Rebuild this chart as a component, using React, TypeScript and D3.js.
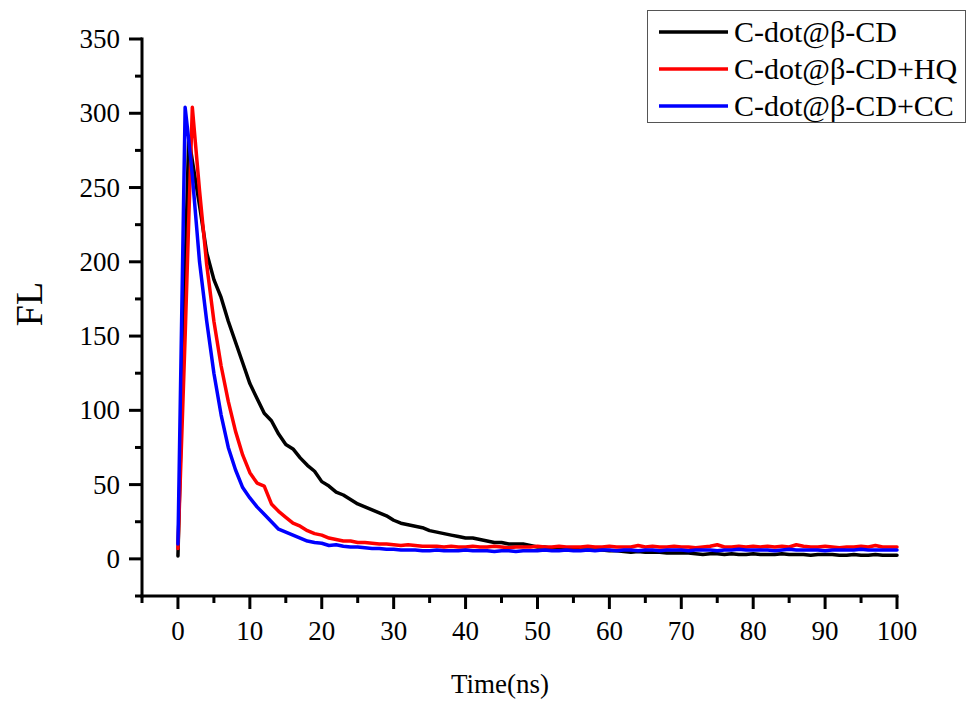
import React from "react";
import * as d3 from "d3";

// sample times (ns)
const time = [
  0, 1, 1.5, 2,
  3, 4, 5, 6, 7, 8, 9, 10,
  11, 12, 13, 14, 15, 16, 17, 18, 19, 20,
  21, 22, 23, 24, 25, 26, 27, 28, 29, 30,
  31, 32, 33, 34, 35, 36, 37, 38, 39, 40,
  41, 42, 43, 44, 45, 46, 47, 48, 49, 50,
  51, 52, 53, 54, 55, 56, 57, 58, 59, 60,
  61, 62, 63, 64, 65, 66, 67, 68, 69, 70,
  71, 72, 73, 74, 75, 76, 77, 78, 79, 80,
  81, 82, 83, 84, 85, 86, 87, 88, 89, 90,
  91, 92, 93, 94, 95, 96, 97, 98, 99, 100,
];

const cdot = [
  2, 195, 284, 268,
  238, 206, 188, 176, 160, 146, 132, 118,
  108, 98, 93, 84, 77, 74, 68, 63, 59, 52,
  49, 45, 43, 40, 37, 35, 33, 31, 29, 26,
  24, 23, 22, 21, 19, 18, 17, 16, 15, 14,
  14, 13, 12, 11, 11, 10, 10, 10, 9, 8,
  8, 7, 7, 7, 6.5, 6, 6, 6, 6, 5.5,
  5.5, 5, 4.5, 5, 4.5, 4.5, 4.5, 4, 4, 4,
  4, 3.5, 3, 3.5, 3.5, 3, 3.5, 3, 3, 3.5,
  3, 3, 3, 3.5, 3, 3, 3, 2.5, 3, 3,
  3, 2.5, 2.5, 3, 2.5, 2.5, 3, 2.5, 2.5, 2.5,
];

const cdotHQ = [
  7, 150, 228, 304,
  248, 198, 160, 130, 106, 86, 70, 58,
  51, 49, 37, 32, 28, 24, 22, 19, 17, 16,
  14, 13, 12, 12, 11, 11, 10.5, 10, 10, 9.5,
  9, 9.5, 9, 8.5, 8.5, 8.5, 8, 8.5, 8, 8,
  8.5, 8, 8, 8.5, 8, 7.5, 8, 8, 8, 8.5,
  8, 8, 8.5, 8, 8, 8, 8.5, 8, 8, 8.5,
  8, 8, 8, 9, 8, 8.5, 8, 8, 8.5, 8,
  8, 7.5, 8, 8.5, 9.5, 8, 8, 8.5, 8, 8.5,
  8, 8.5, 8, 8.5, 8, 9.5, 8.5, 8, 8, 8.5,
  8, 7.5, 8, 8, 8.5, 8, 9, 8, 8, 8,
];

const cdotCC = [
  10, 304, 282, 258,
  200, 160, 125, 97, 75, 60, 48, 41,
  35, 30, 25, 20, 18, 16, 14, 12, 11, 10.5,
  9, 9.5, 8.5, 8, 8, 7.5, 7, 7, 6.5, 6.5,
  6, 6, 6, 5.5, 5.5, 6, 5.5, 5.5, 5.5, 6,
  5.5, 5.5, 5.5, 5, 5.5, 5.5, 5, 5.5, 5.5, 5.5,
  6, 5.5, 5.5, 6, 5.5, 5.5, 6, 5.5, 6, 6,
  5.5, 6, 6, 5.5, 6, 6, 5.5, 6, 6, 6,
  5.5, 6, 6, 6, 5.5, 6, 6, 6.5, 6, 6,
  6, 6, 5.5, 6, 6.5, 6, 6, 6, 6, 5.5,
  6, 6, 6, 6, 6.5, 6, 6, 6, 6, 6,
];

const seriesNames = ["C-dot@β-CD", "C-dot@β-CD+HQ", "C-dot@β-CD+CC"];
const seriesColors = ["#000000", "#ff0000", "#0000ff"];
const seriesValues = [cdot, cdotHQ, cdotCC];

const xTicks = [0, 10, 20, 30, 40, 50, 60, 70, 80, 90, 100];
const xMinor = [-5, 5, 15, 25, 35, 45, 55, 65, 75, 85, 95];
const yTicks = [0, 50, 100, 150, 200, 250, 300, 350];
const yMinor = [-25, 25, 75, 125, 175, 225, 275, 325];

const FONT = "'Liberation Serif', 'Times New Roman', serif";

export default function App() {
  const width = 966;
  const height = 702;

  const x = d3.scaleLinear().domain([-5, 100]).range([142, 897]);
  const y = d3.scaleLinear().domain([-25, 350]).range([596, 39]);

  const line = d3
    .line<number>()
    .x((_, i) => x(time[i]))
    .y((d) => y(d));

  const axisY = y(-25);
  const axisX = x(-5);

  return (
    <svg
      width={width}
      height={height}
      style={{ position: "absolute", left: 0, top: 0, background: "#fff" }}
    >
      {/* data lines */}
      {seriesValues.map((vals, k) => (
        <path
          key={k}
          d={line(vals) || ""}
          fill="none"
          stroke={seriesColors[k]}
          strokeWidth={3.5}
          strokeLinejoin="round"
          strokeLinecap="round"
        />
      ))}

      {/* y axis */}
      <line x1={axisX} x2={axisX} y1={y(350) - 1.5} y2={axisY + 1.5} stroke="#000" strokeWidth={3} />
      {yTicks.map((t) => (
        <g key={"y" + t}>
          <line x1={axisX - 13} x2={axisX} y1={y(t)} y2={y(t)} stroke="#000" strokeWidth={3} />
          <text
            x={axisX - 22}
            y={y(t) + 9}
            textAnchor="end"
            fontFamily={FONT}
            fontSize={27}
          >
            {t}
          </text>
        </g>
      ))}
      {yMinor.map((t) => (
        <line key={"ym" + t} x1={axisX - 7} x2={axisX} y1={y(t)} y2={y(t)} stroke="#000" strokeWidth={3} />
      ))}

      {/* x axis */}
      <line x1={axisX - 1.5} x2={x(100) + 1.5} y1={axisY} y2={axisY} stroke="#000" strokeWidth={3} />
      {xTicks.map((t) => (
        <g key={"x" + t}>
          <line x1={x(t)} x2={x(t)} y1={axisY} y2={axisY + 13} stroke="#000" strokeWidth={3} />
          <text
            x={x(t)}
            y={axisY + 44}
            textAnchor="middle"
            fontFamily={FONT}
            fontSize={27}
          >
            {t}
          </text>
        </g>
      ))}
      {xMinor.map((t) => (
        <line key={"xm" + t} x1={x(t)} x2={x(t)} y1={axisY} y2={axisY + 7} stroke="#000" strokeWidth={3} />
      ))}

      {/* axis titles */}
      <text
        transform={`translate(42, 304) rotate(-90)`}
        textAnchor="middle"
        fontFamily={FONT}
        fontSize={38}
      >
        FL
      </text>
      <text x={500} y={693} textAnchor="middle" fontFamily={FONT} fontSize={27}>
        Time(ns)
      </text>

      {/* legend */}
      <rect x={647.5} y={10.5} width={318} height={112} fill="#fff" stroke="#555" strokeWidth={1} />
      {seriesNames.map((name, k) => {
        const cy = 32 + k * 37;
        return (
          <g key={name}>
            <line x1={659} x2={728} y1={cy} y2={cy} stroke={seriesColors[k]} strokeWidth={3.5} />
            <text x={734} y={cy + 10} fontFamily={FONT} fontSize={30}>
              {name}
            </text>
          </g>
        );
      })}
    </svg>
  );
}
